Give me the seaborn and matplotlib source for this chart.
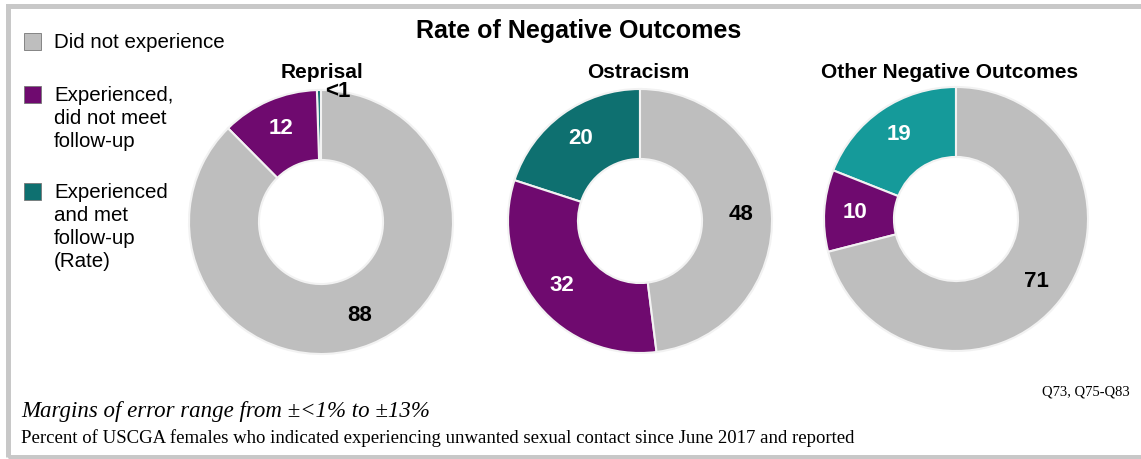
import matplotlib
matplotlib.use("Agg")
import matplotlib.pyplot as plt
import seaborn as sns
from matplotlib.patches import Rectangle
import numpy as np

# ---- data ----
categories = ["Experienced and met follow-up (Rate)",
              "Experienced, did not meet follow-up",
              "Did not experience"]
legend_labels = ["Did not experience",
                 "Experienced,\ndid not meet\nfollow-up",
                 "Experienced\nand met\nfollow-up\n(Rate)"]
panels = ["Reprisal", "Ostracism", "Other Negative Outcomes"]
reprisal_vals = [0.5, 12, 88]
ostracism_vals = [20, 32, 48]
other_vals = [19, 10, 71]
reprisal_labels = ["<1", "12", "88"]
ostracism_labels = ["20", "32", "48"]
other_labels = ["19", "10", "71"]

sns.set_theme(style="white")
plt.rcParams['font.family'] = ['Liberation Sans', 'DejaVu Sans']

GRAY = "#BEBEBE"
PURPLE = "#6F0A6F"
TEAL_D = "#0E7070"
TEAL_L = "#159A9A"
panel_colors = [[TEAL_D, PURPLE, GRAY], [TEAL_D, PURPLE, GRAY], [TEAL_L, PURPLE, GRAY]]
label_colors = ["white", "white", "black"]

W, H = 1141, 459
fig = plt.figure(figsize=(W / 100, H / 100), dpi=100)
fig.patch.set_facecolor("white")

# frame
fig.patches.append(Rectangle((7.5 / W, 1 - 456.5 / H), (W + 20) / W, (456.5 - 5.5) / H,
                             transform=fig.transFigure, fill=False,
                             edgecolor="#C8C8C8", linewidth=3.6, zorder=0))

centers = [(321, 222), (640, 221), (956, 219)]
R = 132
data = [reprisal_vals, ostracism_vals, other_vals]
labels = [reprisal_labels, ostracism_labels, other_labels]
hole = 0.47

for i, (name, vals, labs) in enumerate(zip(panels, data, labels)):
    cx, cy = centers[i]
    ax = fig.add_axes([(cx - R) / W, 1 - (cy + R) / H, 2 * R / W, 2 * R / H])
    wedges, _ = ax.pie(vals, colors=panel_colors[i], startangle=90, counterclock=True,
                       radius=1, wedgeprops=dict(width=1 - hole, edgecolor="#F2F2F2",
                                                 linewidth=1.5))
    ax.set_xlim(-1, 1)
    ax.set_ylim(-1, 1)
    ax.set_aspect("equal")
    ax.axis("off")
    for j, w in enumerate(wedges):
        mid = np.deg2rad((w.theta1 + w.theta2) / 2)
        if vals[j] < 3:
            ax.text(0.03, 0.99, labs[j], ha="left", va="center", fontsize=16,
                    fontweight="bold", color="black", clip_on=False)
        else:
            r = 0.77
            ax.text(r * np.cos(mid), r * np.sin(mid), labs[j], ha="center", va="center",
                    fontsize=16, fontweight="bold", color=label_colors[j])

# panel titles
title_x = [322, 638, 950]
for name, tx in zip(panels, title_x):
    fig.text(tx / W, 1 - 72 / H, name, ha="center", va="center", fontsize=15,
             fontweight="bold", color="black")

fig.text(579 / W, 1 - 31 / H, "Rate of Negative Outcomes", ha="center", va="center",
         fontsize=18, fontweight="bold", color="black")

# legend (manual, squares at first line)
leg_colors = [GRAY, PURPLE, TEAL_D]
leg_y = [42, 95, 192]
for lab, col, y in zip(legend_labels, leg_colors, leg_y):
    fig.patches.append(Rectangle((24 / W, 1 - (y + 8) / H), 17 / W, 17 / H,
                                 transform=fig.transFigure, facecolor=col,
                                 edgecolor="#777777", linewidth=0.6))
    fig.text(54 / W, 1 - (y - 9) / H, lab, ha="left", va="top", fontsize=14.8,
             color="black", linespacing=1.27)

# footnotes
fig.text(1130 / W, 1 - 392 / H, "Q73, Q75-Q83", ha="right", va="center",
         fontsize=10.5, family=["Liberation Serif"], color="black")
fig.text(21 / W, 1 - 412 / H, "Margins of error range from \u00b1<1% to \u00b113%",
         ha="left", va="center", fontsize=16.5, style="italic",
         family=["Liberation Serif"], color="black")
fig.text(21 / W, 1 - 438 / H,
         "Percent of USCGA females who indicated experiencing unwanted sexual contact since June 2017 and reported",
         ha="left", va="center", fontsize=13.5, family=["Liberation Serif"], color="black")

fig.savefig("out.png", dpi=100)
